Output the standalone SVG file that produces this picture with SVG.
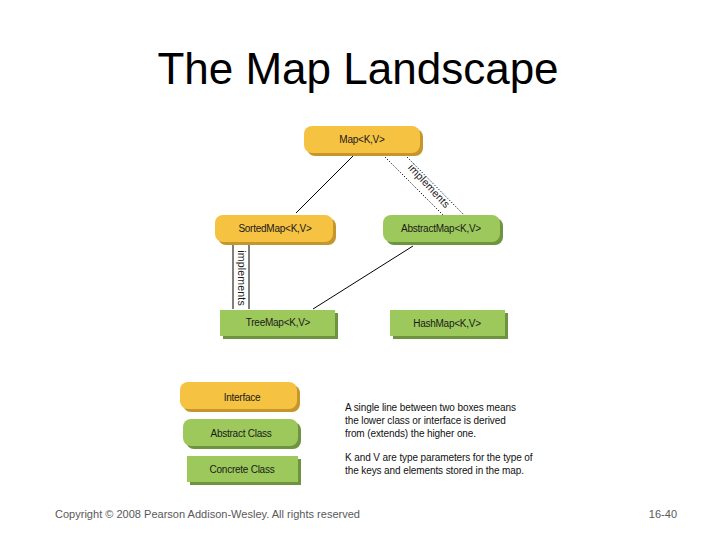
<svg xmlns="http://www.w3.org/2000/svg" width="720" height="540" viewBox="0 0 720 540">
<style>
.t{font-family:"Liberation Sans",Arial,sans-serif;font-size:10px;fill:#1a1a1a;text-anchor:middle;letter-spacing:-0.25px}
.im{font-family:"Liberation Sans",Arial,sans-serif;font-size:10.5px;fill:#1a1a1a;text-anchor:middle;letter-spacing:0.2px}
.yl{fill:#F5C242}.ys{fill:#C5962C}
.gr{fill:#9DC95C}.gs{fill:#6F9440}
.ln{stroke:#000;stroke-width:1;fill:none}
.dt{stroke:#000;stroke-width:1;fill:none;stroke-dasharray:1.2 1.8}
.lg{font-family:"Liberation Sans",Arial,sans-serif;font-size:10px;fill:#111;letter-spacing:-0.1px}
</style>
<rect width="720" height="540" fill="#fff"/>
<text x="358" y="84" font-family="Liberation Sans,Arial,sans-serif" font-size="44" text-anchor="middle" fill="#000">The Map Landscape</text>

<g id="connectors">
<line class="ln" x1="353" y1="156" x2="296" y2="213"/>
<line class="dt" x1="385" y1="157" x2="444" y2="216"/>
<line class="dt" x1="405" y1="155" x2="464" y2="215"/>
<text class="im" transform="translate(429,186) rotate(47)" y="3.5">implements</text>
<line class="ln" x1="233" y1="244" x2="233" y2="309"/>
<line class="ln" x1="249" y1="244" x2="249" y2="309"/>
<text class="im" transform="translate(241,278) rotate(90)" y="3.5">implements</text>
<line class="ln" x1="413" y1="246" x2="313" y2="309"/>
</g>

<g id="map">
<rect class="ys" x="307" y="129" width="116" height="27" rx="8"/>
<rect class="yl" x="304" y="126" width="116" height="27" rx="8"/>
<text class="t" x="362" y="143">Map&lt;K,V&gt;</text>
</g>
<g id="sortedmap">
<rect class="ys" x="218" y="218" width="118" height="27" rx="8"/>
<rect class="yl" x="215" y="215" width="118" height="27" rx="8"/>
<text class="t" x="275" y="232">SortedMap&lt;K,V&gt;</text>
</g>
<g id="abstractmap">
<rect class="gs" x="386" y="218" width="117" height="27" rx="8"/>
<rect class="gr" x="383" y="215" width="117" height="27" rx="8"/>
<text class="t" x="441" y="232">AbstractMap&lt;K,V&gt;</text>
</g>
<g id="treemap">
<rect class="gs" x="223" y="313" width="115" height="26"/>
<rect class="gr" x="220" y="310" width="115" height="26"/>
<text class="t" x="278" y="326">TreeMap&lt;K,V&gt;</text>
</g>
<g id="hashmap">
<rect class="gs" x="393" y="313" width="115" height="26"/>
<rect class="gr" x="390" y="310" width="115" height="26"/>
<text class="t" x="447" y="327">HashMap&lt;K,V&gt;</text>
</g>

<g id="legend-interface">
<rect class="ys" x="183" y="385" width="117" height="27" rx="8"/>
<rect class="yl" x="180" y="382" width="117" height="27" rx="8"/>
<text class="t" x="242" y="401">Interface</text>
</g>
<g id="legend-abstract">
<rect class="gs" x="186" y="422" width="115" height="27" rx="8"/>
<rect class="gr" x="183" y="419" width="115" height="27" rx="8"/>
<text class="t" x="241" y="437">Abstract Class</text>
</g>
<g id="legend-concrete">
<rect class="gs" x="190" y="459" width="111" height="26"/>
<rect class="gr" x="187" y="456" width="111" height="26"/>
<text class="t" x="242" y="473">Concrete Class</text>
</g>

<g id="legend-text">
<text class="lg" x="345" y="411">A single line between two boxes means</text>
<text class="lg" x="345" y="424">the lower class or interface is derived</text>
<text class="lg" x="345" y="437">from (extends) the higher one.</text>
<text class="lg" x="345" y="461">K and V are type parameters for the type of</text>
<text class="lg" x="345" y="474">the keys and elements stored in the map.</text>
</g>

<text x="55" y="518" font-family="Liberation Sans,Arial,sans-serif" font-size="11" fill="#595959" textLength="305" lengthAdjust="spacingAndGlyphs">Copyright © 2008 Pearson Addison-Wesley. All rights reserved</text>
<text x="677" y="518" font-family="Liberation Sans,Arial,sans-serif" font-size="11" fill="#595959" text-anchor="end">16-40</text>
</svg>
